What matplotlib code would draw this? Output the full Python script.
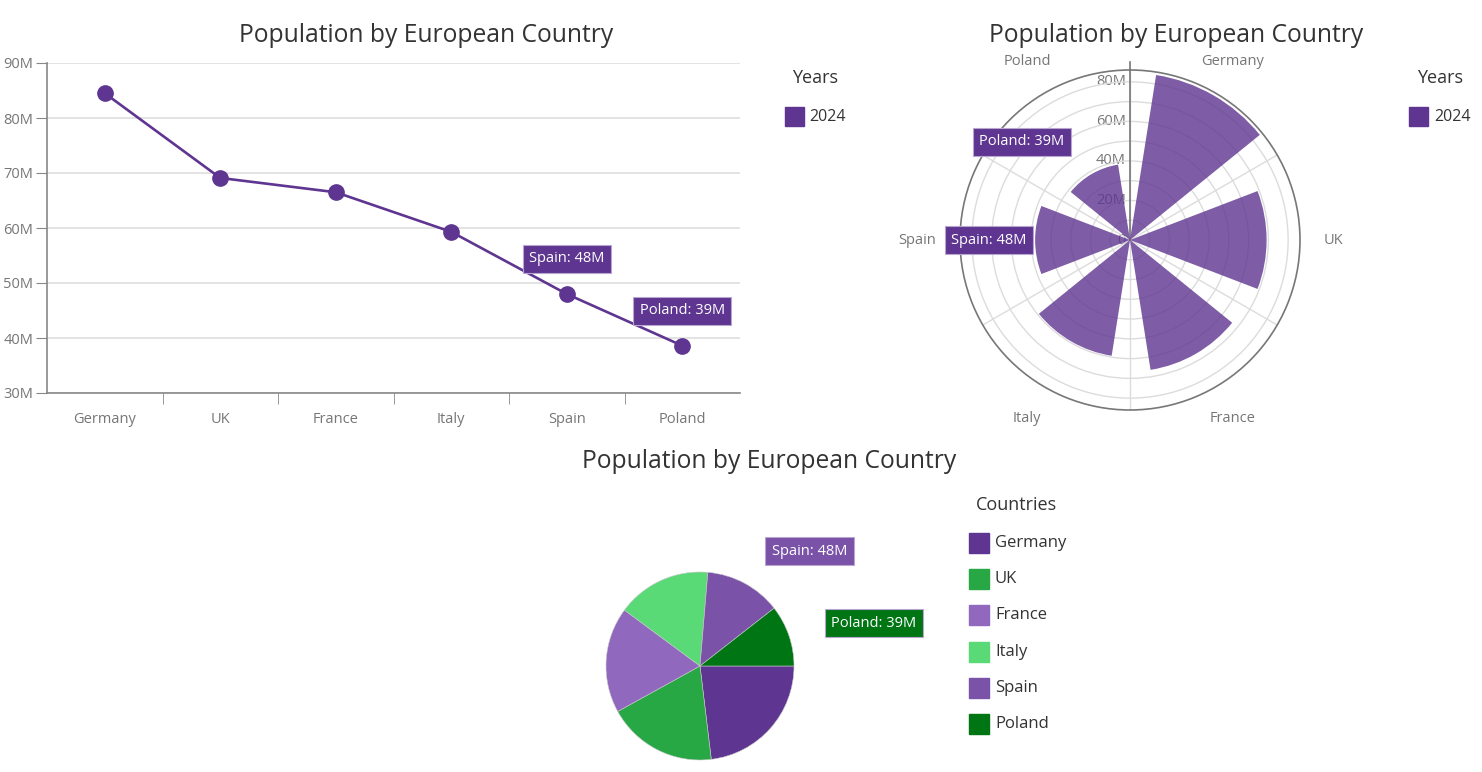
import numpy as np
import matplotlib
matplotlib.use("Agg")
from matplotlib import pyplot as plt
from matplotlib.patches import Rectangle

plt.rcParams['font.family'] = ['Open Sans', 'DejaVu Sans']

countries = ['Germany', 'UK', 'France', 'Italy', 'Spain', 'Poland']
population_m = [84.5, 69.1, 66.5, 59.3, 48.0, 38.6]
series_name = '2024'
labelled = ['Spain', 'Poland']

line_color = '#5e3590'
pie_colors = ['#5e3590', '#28a745', '#9068be', '#5ad977', '#7a52a8', '#007514']
title = 'Population by European Country'
tick_gray = '#767676'
grid_gray = '#dedede'

W, H = 1482, 772
fig = plt.figure(figsize=(W / 100, H / 100), dpi=100)


def box(x, y, w, h):
    # pixel rect (top-left origin) -> figure fraction
    return [x / W, 1 - (y + h) / H, w / W, h / H]


def ftext(x, y, s, **kw):
    fig.text(x / W, 1 - y / H, s, **kw)


def swatch(x, y, size, color):
    fig.add_artist(Rectangle((x / W, 1 - (y + size) / H), size / W, size / H,
                             transform=fig.transFigure, color=color))


def tag(ax, xy, text, color, dx, dy, **kw):
    ax.annotate(text, xy=xy, xytext=(dx, dy), textcoords='offset pixels',
                ha='center', va='center', color='white', fontsize=10.5,
                bbox=dict(boxstyle='square,pad=0.45', fc=color, ec='#b9a6d0', lw=0.8),
                zorder=10, annotation_clip=False, **kw)


# ---- line chart ----
ax = fig.add_axes(box(47, 63, 693, 330))
x = np.arange(len(countries))
ax.plot(x, population_m, color=line_color, lw=1.9, marker='o', ms=11, zorder=3)
ax.set_xlim(-0.5, len(countries) - 0.5)
ax.set_ylim(30, 90)
ax.set_yticks(range(30, 91, 10))
ax.set_yticklabels([f'{v}M' for v in range(30, 91, 10)])
ax.set_xticks(x)
ax.set_xticklabels(countries)
ax.set_xticks(x[:-1] + 0.5, minor=True)
ax.tick_params(axis='x', which='major', length=0, pad=14, labelsize=10.5, labelcolor=tick_gray)
ax.tick_params(axis='x', which='minor', length=8, color='#888')
ax.tick_params(axis='y', length=8, color='#888', pad=2, labelsize=10.5, labelcolor=tick_gray)
ax.grid(axis='y', color=grid_gray, lw=1.2)
ax.set_axisbelow(True)
for s in ['top', 'right']:
    ax.spines[s].set_visible(False)
for s in ['left', 'bottom']:
    ax.spines[s].set_color('#888')
    ax.spines[s].set_linewidth(1.2)
for name in labelled:
    i = countries.index(name)
    tag(ax, (i, population_m[i]), f'{name}: {population_m[i]:.0f}M', line_color, 0, 35)
ftext(426, 35, title, ha='center', va='center', fontsize=17.7, color='#333')
ftext(815, 78, 'Years', ha='center', va='center', fontsize=13, color='#333')
swatch(785, 107, 19, line_color)
ftext(809, 117, series_name, ha='left', va='center', fontsize=11.5, color='#333')

# ---- polar chart ----
rmax = 86
pax = fig.add_axes(box(1130 - 170, 240 - 170, 340, 340), projection='polar')
pax.set_theta_zero_location('N')
pax.set_theta_direction(-1)
theta = np.deg2rad(30 + 60 * x)
pax.bar(theta, population_m, width=np.deg2rad(42), color=line_color, alpha=0.8, zorder=3)
pax.set_ylim(0, rmax)
pax.set_yticks(range(10, 81, 10))
pax.set_yticklabels([])
pax.set_thetagrids(range(0, 360, 60), labels=[''] * 6)
pax.grid(color='#dcdcdc', lw=1)
pax.spines['polar'].set_color('#777')
pax.spines['polar'].set_linewidth(1.2)
pax.tick_params(axis='x', direction='out', length=9, color='#777', width=1.2)
pax.plot([0, 0], [0, rmax * 1.05], color='#777', lw=1.2, clip_on=False, zorder=2)
for r in range(0, 81, 20):
    pax.annotate('0' if r == 0 else f'{r}M', xy=(0, r), xytext=(-4, 0),
                 textcoords='offset pixels', ha='right', va='center',
                 fontsize=10.5, color=tick_gray, zorder=1)
for t, name in zip(theta, countries):
    s = np.sin(t)
    if abs(s) > 0.9:
        pax.text(t, rmax * 1.14, name, ha='left' if s > 0 else 'right', va='center',
                 fontsize=10.5, color=tick_gray, clip_on=False)
    else:
        pax.text(t, rmax * 1.21, name, ha='center', va='center', fontsize=10.5,
                 color=tick_gray, clip_on=False)
offsets = {'Spain': (-46, 0), 'Poland': (-70, 32)}
for name in labelled:
    i = countries.index(name)
    tag(pax, (theta[i], population_m[i]), f'{name}: {population_m[i]:.0f}M', line_color, *offsets[name])
ftext(1176, 35, title, ha='center', va='center', fontsize=17.7, color='#333')
ftext(1440, 78, 'Years', ha='center', va='center', fontsize=13, color='#333')
swatch(1409, 107, 19, line_color)
ftext(1434, 117, series_name, ha='left', va='center', fontsize=11.5, color='#333')

# ---- pie chart ----
qax = fig.add_axes(box(700 - 94, 666 - 94, 188, 188))
wedges, _ = qax.pie(population_m, colors=pie_colors, startangle=0, counterclock=False,
                    wedgeprops=dict(ec='#c8c8c8', lw=0.4))
qax.set_xlim(-1, 1)
qax.set_ylim(-1, 1)
qax.set_aspect('equal')
pie_offsets = {'Spain': (65, 32), 'Poland': (85, 12)}
for name in labelled:
    i = countries.index(name)
    w = wedges[i]
    mid = np.deg2rad((w.theta1 + w.theta2) / 2)
    tag(qax, (np.cos(mid), np.sin(mid)), f'{name}: {population_m[i]:.0f}M',
        pie_colors[i], *pie_offsets[name])
ftext(769, 462, title, ha='center', va='center', fontsize=17.7, color='#333')
ftext(1016, 505, 'Countries', ha='center', va='center', fontsize=13, color='#333')
for k, (name, c) in enumerate(zip(countries, pie_colors)):
    yy = 543 + k * 36.2
    swatch(969, yy - 10, 20, c)
    ftext(995, yy, name, ha='left', va='center', fontsize=12, color='#333')

fig.savefig('out.png', dpi=100)
